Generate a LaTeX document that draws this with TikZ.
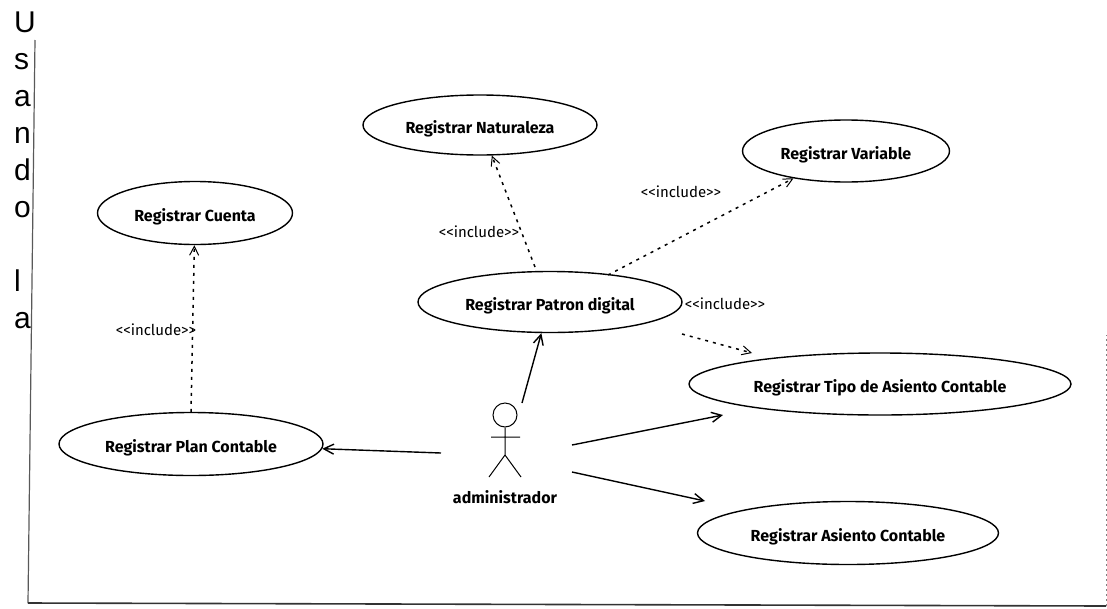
\documentclass[tikz,border=0pt]{standalone}
\usepackage{fontspec}
\setmainfont{Liberation Sans}
\newfontfamily\casefont{Fira Sans}
\usetikzlibrary{shapes.geometric,arrows.meta}
\tikzset{
	usecase/.style={ellipse, draw, line width=1.4pt, inner sep=0pt, text height=16pt, text depth=0pt, font=\casefont\bfseries\fontsize{16}{18}\selectfont},
	assoc/.style={-{Straight Barb[length=10pt,width=10pt]}, line width=1.4pt},
	incl/.style={-{Straight Barb[length=9pt,width=9pt,line width=1pt]}, dash pattern=on 3pt off 5pt, line width=1.5pt},
	stereo/.style={font=\casefont\fontsize{15}{17}\selectfont}
}
\begin{document}
\begin{tikzpicture}[x=1pt,y=-1pt]
	\useasboundingbox (0,0) rectangle (1107,608);
	\node [anchor=north west, align=left, inner sep=0pt, font=\fontsize{30}{37}\selectfont] (vtitle) at (14,12) {U\\s\\a\\n\\d\\o\\ \\l\\a};
	\coordinate (ftop) at (35,40);
	\coordinate (fcorner) at (28,603);
	\coordinate (fend) at (1106,606);
	\coordinate (fright) at (1106,335);
	\draw [line width=1.2pt, black!65] (ftop) -- (fcorner);
	\draw [line width=1.6pt, black!80] (fcorner) -- (fend);
	\draw [line width=1pt, black!50, dash pattern=on 2pt off 3pt] (fend) -- (fright);
	\node [usecase, minimum width=195pt, minimum height=63pt] (cuenta) at (195,213) {Registrar Cuenta};
	\node [usecase, minimum width=234pt, minimum height=60pt] (naturaleza) at (480,125) {Registrar Naturaleza};
	\node [usecase, minimum width=207pt, minimum height=62pt] (variable) at (846,151) {Registrar Variable};
	\node [usecase, minimum width=264pt, minimum height=61pt] (patron) at (550,302) {Registrar Patron digital};
	\node [usecase, minimum width=382pt, minimum height=62pt] (tipo) at (880,384) {Registrar Tipo de Asiento Contable};
	\node [usecase, minimum width=301pt, minimum height=63pt] (asiento) at (848,533) {Registrar Asiento Contable};
	\node [usecase, minimum width=264pt, minimum height=63pt] (plan) at (191,444) {Registrar Plan Contable};
	% actor
	\node [circle, draw, line width=1pt, minimum size=24pt, inner sep=0pt] (head) at (505,415) {};
	\coordinate (hip) at (505,455);
	\coordinate (armL) at (491,437);
	\coordinate (armR) at (520,437);
	\coordinate (footL) at (489,477);
	\coordinate (footR) at (521,477);
	\draw [line width=1pt] (head) -- (hip) (armL) -- (armR) (footL) -- (hip) -- (footR);
	\node [font=\casefont\bfseries\fontsize{16}{18}\selectfont] (admin) at (505,497) {administrador};
	\coordinate (aL) at (441,453);
	\coordinate (aT) at (522,403);
	\coordinate (aR) at (572,445);
	\coordinate (aS) at (572,472);
	\coordinate (tipoTip) at (723,415);
	\coordinate (asientoTip) at (705,501);
	\draw [assoc] (aL) -- (plan);
	\draw [assoc] (aT) -- (patron);
	\draw [assoc] (aR) -- (tipoTip);
	\draw [assoc] (aS) -- (asientoTip);
	\coordinate (pN) at (535,267);
	\coordinate (pV) at (608,275);
	\coordinate (pT) at (682,334);
	\coordinate (tT) at (752,353);
	\draw [incl] (plan.north) -- (cuenta);
	\draw [incl] (pN) -- (naturaleza);
	\draw [incl] (pV) -- (variable);
	\draw [incl] (pT) -- (tT);
	\node [stereo] (inc1) at (156,330) {<<include>>};
	\node [stereo] (inc2) at (479,232) {<<include>>};
	\node [stereo] (inc3) at (681,192) {<<include>>};
	\node [stereo] (inc4) at (725,304) {<<include>>};
\end{tikzpicture}
\end{document}
